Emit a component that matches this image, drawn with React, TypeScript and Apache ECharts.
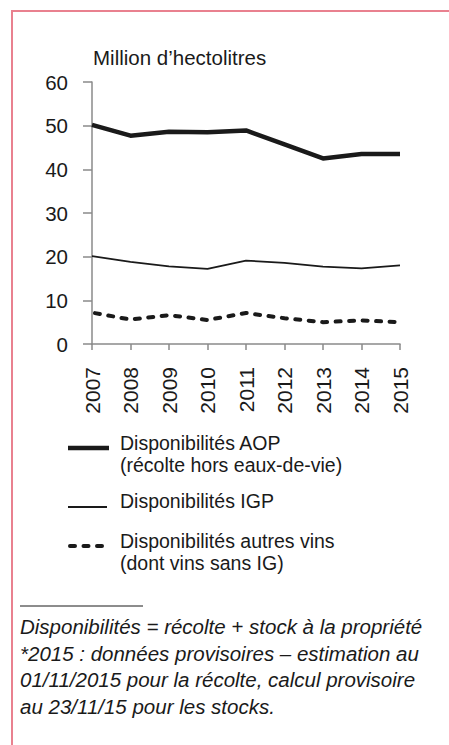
import React, { useEffect, useRef } from 'react';
import * as echarts from 'echarts';

const years = ['2007', '2008', '2009', '2010', '2011', '2012', '2013', '2014', '2015'];
const aopValues = [50.2, 47.7, 48.6, 48.5, 48.9, 45.7, 42.5, 43.5, 43.5];
const igpValues = [20.1, 18.8, 17.8, 17.2, 19.1, 18.6, 17.7, 17.3, 18.0];
const autresValues = [7.2, 5.6, 6.6, 5.5, 7.1, 5.9, 5.0, 5.4, 5.0];
const seriesNames = ['Disponibilités AOP', 'Disponibilités IGP', 'Disponibilités autres vins'];
const legendLines = [
  ['Disponibilités AOP', '(récolte hors eaux-de-vie)'],
  ['Disponibilités IGP'],
  ['Disponibilités autres vins', '(dont vins sans IG)'],
];
const unitLabel = 'Million d’hectolitres';
const footnotes = [
  'Disponibilités = récolte + stock à la propriété',
  '*2015 : données provisoires – estimation au',
  '01/11/2015 pour la récolte, calcul provisoire',
  'au 23/11/15 pour les stocks.',
];

const FONT = '"Liberation Sans", Arial, Helvetica, sans-serif';
const INK = '#1a1a1a';
const AXIS = '#8a8a8a';

export default function App() {
  const ref = useRef<HTMLDivElement>(null);

  useEffect(() => {
    if (!ref.current) return;
    const chart = echarts.init(ref.current, null, { renderer: 'svg' });

    const legendStyles = [
      { lineWidth: 4.5, lineDash: null as any, cap: 'butt', x1: 68, x2: 109 },
      { lineWidth: 2, lineDash: null as any, cap: 'butt', x1: 68, x2: 107 },
      { lineWidth: 4, lineDash: [5, 8.5], cap: 'round', x1: 70, x2: 102 },
    ];
    const legendLineY = [448, 507, 546];
    const legendTextY = [453.5, 501, 552];

    const graphics: any[] = [
      {
        type: 'polyline',
        shape: { points: [[12, 745], [12, 11], [449, 11]] },
        style: { stroke: '#e9818f', lineWidth: 2, fill: null },
        silent: true,
      },
    ];
    legendLines.forEach((lines, i) => {
      const st = legendStyles[i];
      graphics.push({
        type: 'line',
        shape: { x1: st.x1, y1: legendLineY[i], x2: st.x2, y2: legendLineY[i] },
        style: { stroke: INK, lineWidth: st.lineWidth, lineDash: st.lineDash, lineCap: st.cap },
      });
      graphics.push({
        type: 'text',
        x: 120,
        y: legendTextY[i],
        style: {
          text: lines.join('\n'),
          fill: INK,
          font: `19.5px ${FONT}`,
          lineHeight: 22,
          verticalAlign: 'middle',
          align: 'left',
        },
      });
    });
    graphics.push({
      type: 'line',
      shape: { x1: 20, y1: 606, x2: 143, y2: 606 },
      style: { stroke: INK, lineWidth: 1 },
    });
    footnotes.forEach((t, i) => {
      graphics.push({
        type: 'text',
        x: 20,
        y: 626.5 + i * 26.7,
        style: { text: t, fill: INK, font: `italic 20.5px ${FONT}`, verticalAlign: 'middle', align: 'left' },
      });
    });

    chart.setOption({
      animation: false,
      backgroundColor: '#ffffff',
      grid: { left: 92, right: 49, top: 82, bottom: 401, containLabel: false, outerBoundsMode: 'none' },
      xAxis: {
        type: 'category',
        data: years,
        boundaryGap: false,
        axisLine: { lineStyle: { color: AXIS, width: 1.5 } },
        axisTick: { length: 6, lineStyle: { color: AXIS, width: 1.5 }, alignWithLabel: true },
        axisLabel: { rotate: 90, margin: 23, fontSize: 21, color: INK, fontFamily: FONT, interval: 0 },
        splitLine: { show: false },
      },
      yAxis: {
        type: 'value',
        min: 0,
        max: 60,
        interval: 10,
        name: unitLabel,
        nameLocation: 'end',
        nameGap: 25,
        nameTextStyle: { align: 'left', verticalAlign: 'middle', fontSize: 20.5, color: INK, fontFamily: FONT, padding: [0, 0, 0, 1] },
        axisLine: { show: true, lineStyle: { color: AXIS, width: 1.5 } },
        axisTick: { show: true, length: 9, lineStyle: { color: AXIS, width: 1.5 } },
        axisLabel: { margin: 24, fontSize: 20.5, color: INK, fontFamily: FONT },
        splitLine: { show: false },
      },
      series: [
        {
          name: seriesNames[0],
          type: 'line',
          data: aopValues,
          symbol: 'none',
          lineStyle: { color: INK, width: 4.5, join: 'round' },
        },
        {
          name: seriesNames[1],
          type: 'line',
          data: igpValues,
          symbol: 'none',
          lineStyle: { color: INK, width: 1.8 },
        },
        {
          name: seriesNames[2],
          type: 'line',
          data: autresValues,
          symbol: 'none',
          lineStyle: { color: INK, width: 4, type: [5, 8.5], cap: 'round', join: 'round', dashOffset: -3 },
        },
      ],
      graphic: graphics,
    });

    return () => chart.dispose();
  }, []);

  return (
    <div
      ref={ref}
      style={{ position: 'fixed', left: 0, top: 0, width: 449, height: 745, background: '#fff' }}
    />
  );
}
